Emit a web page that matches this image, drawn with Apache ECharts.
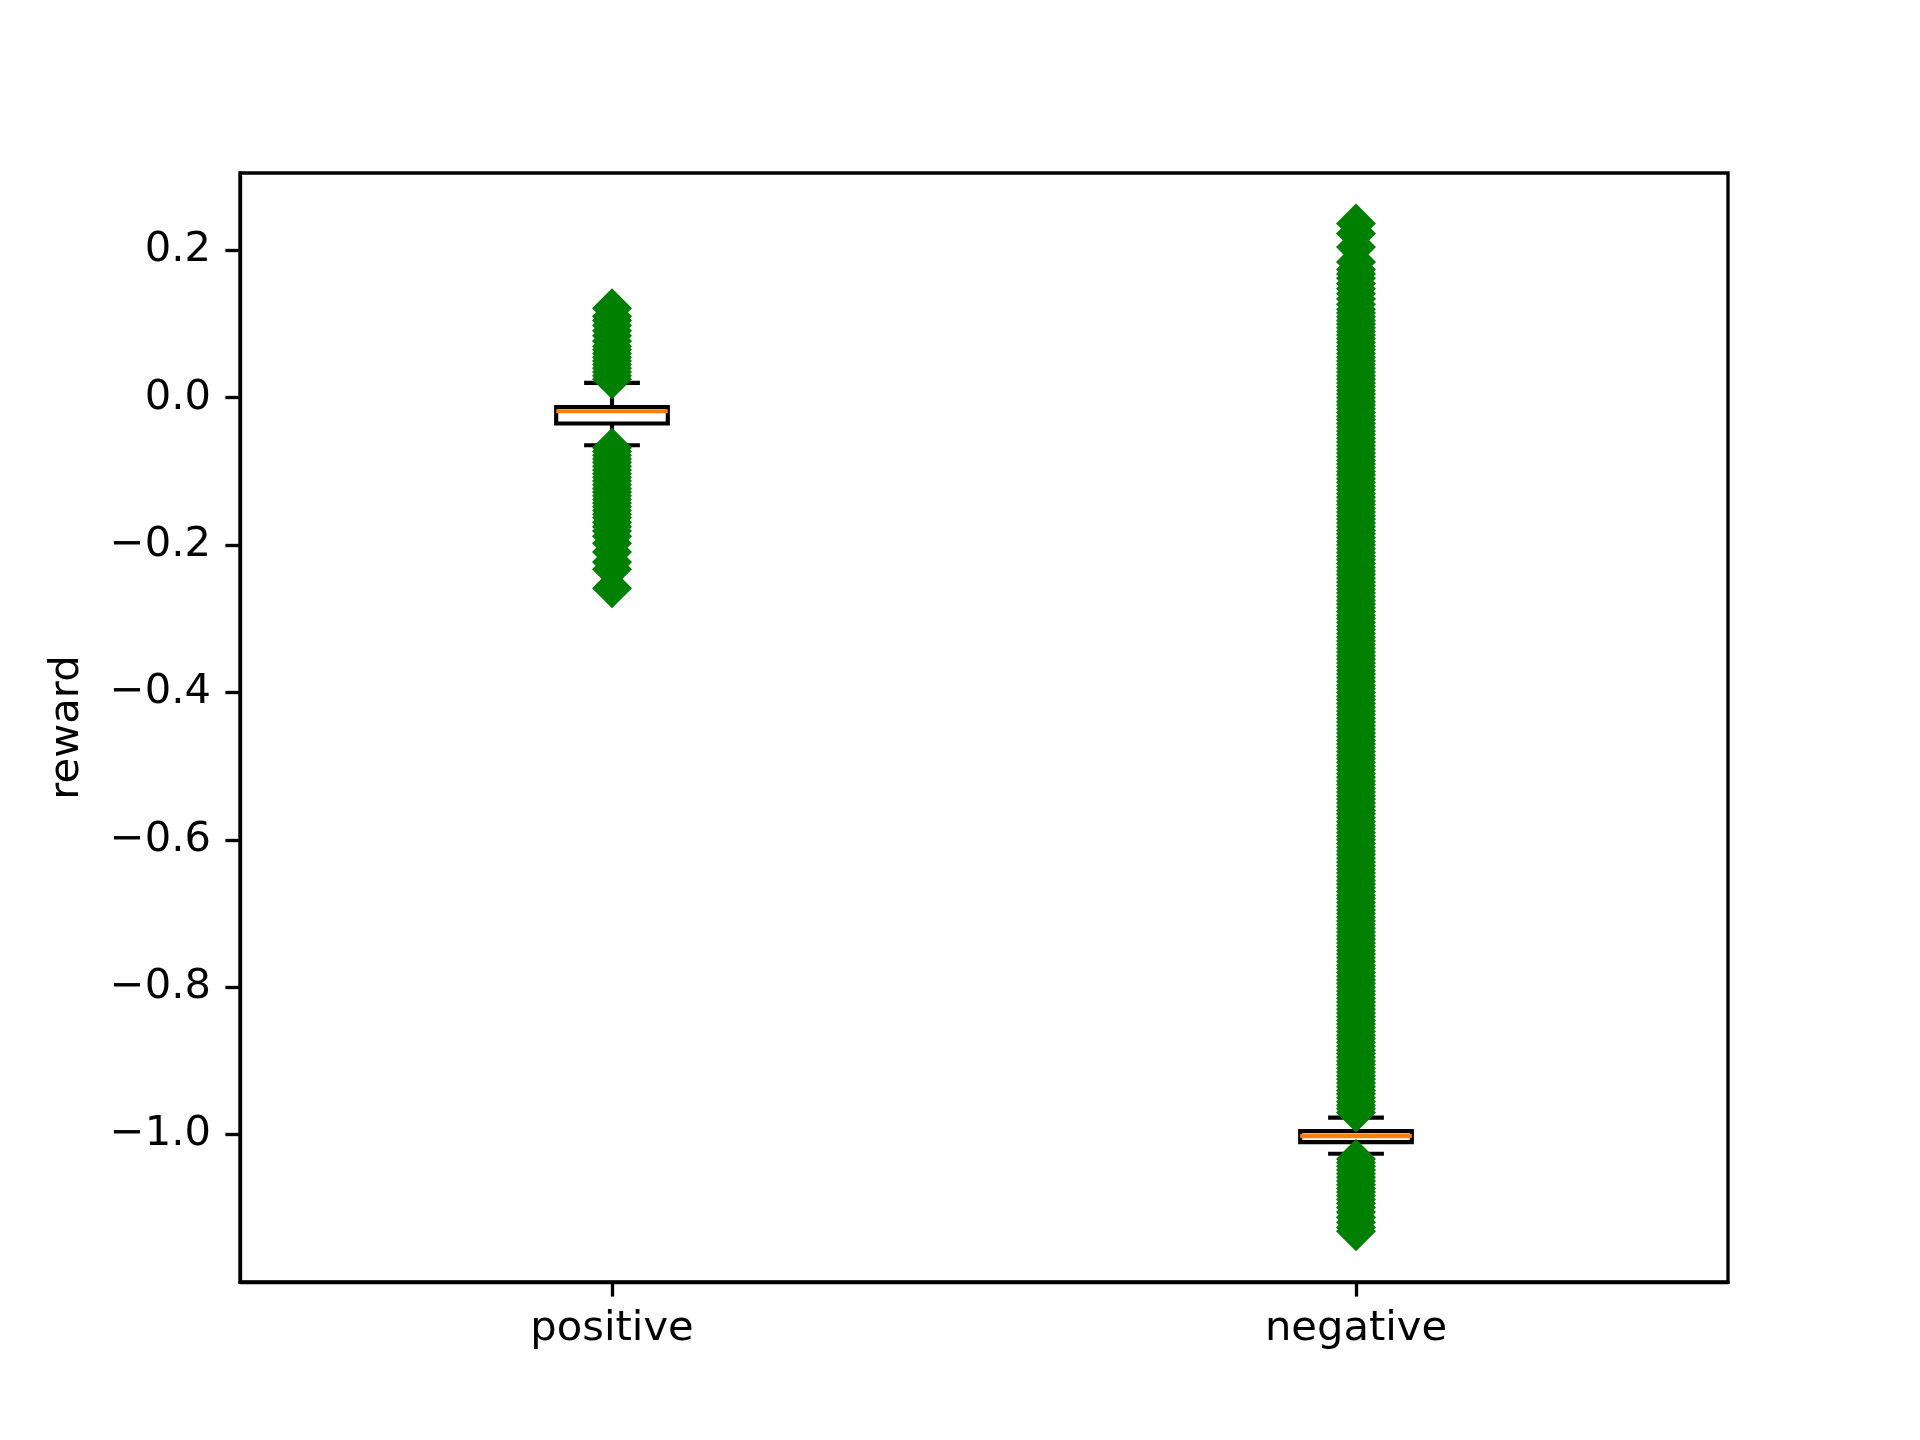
<!DOCTYPE html>
<html>
<head>
<meta charset="utf-8">
<title>reward boxplot</title>
<script src="https://cdn.jsdelivr.net/npm/echarts@6/dist/echarts.min.js"></script>
<style>
  html, body { margin: 0; padding: 0; background: #fff; }
  #chart { width: 1920px; height: 1440px; }
</style>
</head>
<body>
<div id="chart"></div>
<script>
  // categories on the x axis
  const categories = ['positive', 'negative'];

  // box stats per category: [low whisker, Q1, median, Q3, high whisker]
  const positiveBox = [-0.0645, -0.035, -0.0183, -0.0125, 0.0201];
  const negativeBox = [-1.026, -1.0102, -1.002, -0.9953, -0.977];

  // outliers (dense bands + the loose diamonds at the ends)
  const positiveFliersHigh = [
    0.025, 0.03, 0.035, 0.04, 0.045, 0.05, 0.055, 0.06, 0.065, 0.07,
    0.077, 0.084, 0.091, 0.098, 0.105, 0.1107, 0.1215
  ];
  const positiveFliersLow = [
    -0.068, -0.073, -0.078, -0.083, -0.088, -0.093, -0.098, -0.103, -0.108, -0.113,
    -0.118, -0.123, -0.128, -0.133, -0.138, -0.143, -0.148, -0.153, -0.158, -0.163,
    -0.169, -0.175, -0.181, -0.188, -0.1975, -0.2093, -0.2229, -0.2328, -0.2586
  ];
  const negativeFliersHigh = [
    -0.97, -0.965, -0.96, -0.955, -0.95, -0.945, -0.94, -0.935, -0.93, -0.925,
    -0.92, -0.915, -0.91, -0.905, -0.9, -0.895, -0.89, -0.885, -0.88, -0.875,
    -0.87, -0.865, -0.86, -0.855, -0.85, -0.845, -0.84, -0.835, -0.83, -0.825,
    -0.82, -0.815, -0.81, -0.805, -0.8, -0.795, -0.79, -0.785, -0.78, -0.775,
    -0.77, -0.765, -0.76, -0.755, -0.75, -0.745, -0.74, -0.735, -0.73, -0.725,
    -0.72, -0.715, -0.71, -0.705, -0.7, -0.695, -0.69, -0.685, -0.68, -0.675,
    -0.67, -0.665, -0.66, -0.655, -0.65, -0.645, -0.64, -0.635, -0.63, -0.625,
    -0.62, -0.615, -0.61, -0.605, -0.6, -0.595, -0.59, -0.585, -0.58, -0.575,
    -0.57, -0.565, -0.56, -0.555, -0.55, -0.545, -0.54, -0.535, -0.53, -0.525,
    -0.52, -0.515, -0.51, -0.505, -0.5, -0.495, -0.49, -0.485, -0.48, -0.475,
    -0.47, -0.465, -0.46, -0.455, -0.45, -0.445, -0.44, -0.435, -0.43, -0.425,
    -0.42, -0.415, -0.41, -0.405, -0.4, -0.395, -0.39, -0.385, -0.38, -0.375,
    -0.37, -0.365, -0.36, -0.355, -0.35, -0.345, -0.34, -0.335, -0.33, -0.325,
    -0.32, -0.315, -0.31, -0.305, -0.3, -0.295, -0.29, -0.285, -0.28, -0.275,
    -0.27, -0.265, -0.26, -0.255, -0.25, -0.245, -0.24, -0.235, -0.23, -0.225,
    -0.22, -0.215, -0.21, -0.205, -0.2, -0.195, -0.19, -0.185, -0.18, -0.175,
    -0.17, -0.165, -0.16, -0.155, -0.15, -0.145, -0.14, -0.135, -0.13, -0.125,
    -0.12, -0.115, -0.11, -0.105, -0.1, -0.095, -0.09, -0.085, -0.08, -0.075,
    -0.07, -0.065, -0.06, -0.055, -0.05, -0.045, -0.04, -0.035, -0.03, -0.025,
    -0.02, -0.015, -0.01, -0.005, 0, 0.005, 0.01, 0.015, 0.02, 0.025,
    0.03, 0.035, 0.04, 0.045, 0.05, 0.055, 0.06, 0.065, 0.07, 0.075,
    0.08, 0.085, 0.09, 0.095, 0.1, 0.105, 0.11, 0.115, 0.12, 0.127,
    0.134, 0.141, 0.148, 0.155, 0.162, 0.168, 0.174,
    0.1843, 0.2047, 0.2229, 0.2365
  ];
  const negativeFliersLow = [
    -1.033, -1.038, -1.043, -1.048, -1.053, -1.058, -1.063, -1.068, -1.073, -1.078,
    -1.083, -1.088, -1.093, -1.099, -1.105, -1.112, -1.119, -1.126, -1.131
  ];

  // y tick labels
  const yTicks = [-1.0, -0.8, -0.6, -0.4, -0.2, 0.0, 0.2];

  const FONT = 'DejaVu Sans';
  const PX = 300 / 72;          // matplotlib points -> px at 300 dpi

  const boxData = [
    [0].concat(positiveBox),
    [1].concat(negativeBox)
  ];

  const flierData = [];
  positiveFliersHigh.concat(positiveFliersLow).forEach(v => flierData.push([0, v]));
  negativeFliersHigh.concat(negativeFliersLow).forEach(v => flierData.push([1, v]));

  function fmt(v) {
    const s = Math.abs(v).toFixed(1);
    return v < -1e-9 ? '\u2212' + s : s;
  }

  function renderBox(params, api) {
    const x = api.value(0);
    const c = v => api.coord([x, v]);
    const band = api.size([1, 0])[0];
    const halfBox = band * 0.15 / 2;
    const halfCap = halfBox / 2;
    const lo = c(api.value(1)), q1 = c(api.value(2)), med = c(api.value(3));
    const q3 = c(api.value(4)), hi = c(api.value(5));
    const cx = q1[0];
    const black = { stroke: '#000', lineWidth: 1.0 * PX, fill: null };
    return {
      type: 'group',
      children: [
        { type: 'line', shape: { x1: cx, y1: q1[1], x2: cx, y2: lo[1] }, style: black },
        { type: 'line', shape: { x1: cx, y1: q3[1], x2: cx, y2: hi[1] }, style: black },
        { type: 'line', shape: { x1: cx - halfCap, y1: lo[1], x2: cx + halfCap, y2: lo[1] }, style: black },
        { type: 'line', shape: { x1: cx - halfCap, y1: hi[1], x2: cx + halfCap, y2: hi[1] }, style: black },
        { type: 'rect', shape: { x: cx - halfBox, y: q3[1], width: halfBox * 2, height: q1[1] - q3[1] }, style: black },
        { type: 'line', shape: { x1: cx - halfBox, y1: med[1], x2: cx + halfBox, y2: med[1] },
          style: { stroke: '#ff7f0e', lineWidth: 1.0 * PX } }
      ]
    };
  }

  const axisLineStyle = { color: '#000', width: 0.8 * PX };

  const chart = echarts.init(document.getElementById('chart'), null, { renderer: 'canvas' });
  chart.setOption({
    animation: false,
    backgroundColor: '#fff',
    textStyle: { fontFamily: FONT },
    grid: {
      left: 240, right: 192, top: 173, bottom: 158,
      show: true, borderColor: '#000', borderWidth: 0.8 * PX, backgroundColor: 'transparent'
    },
    xAxis: {
      type: 'category',
      data: categories,
      boundaryGap: true,
      axisLine: { show: true, onZero: false, lineStyle: axisLineStyle },
      axisTick: { show: true, alignWithLabel: true, inside: false, length: 3.5 * PX, lineStyle: axisLineStyle },
      axisLabel: { color: '#000', fontSize: 10 * PX, fontFamily: FONT, margin: 26 },
      splitLine: { show: false }
    },
    yAxis: {
      type: 'value',
      min: -1.2,
      max: 0.305,
      name: 'reward',
      nameLocation: 'middle',
      nameGap: 152,
      nameTextStyle: { color: '#000', fontSize: 10 * PX, fontFamily: FONT },
      axisLine: { show: true, lineStyle: axisLineStyle },
      axisTick: { show: true, customValues: yTicks, length: 3.5 * PX, lineStyle: axisLineStyle },
      axisLabel: { color: '#000', fontSize: 10 * PX, fontFamily: FONT, margin: 29, customValues: yTicks, formatter: fmt },
      splitLine: { show: false }
    },
    series: [
      {
        type: 'custom',
        renderItem: renderBox,
        data: boxData,
        encode: { x: 0, y: [1, 2, 3, 4, 5] },
        z: 2
      },
      {
        type: 'scatter',
        data: flierData,
        symbol: 'diamond',
        symbolSize: 40,
        itemStyle: { color: '#008000', opacity: 1 },
        z: 3
      }
    ]
  });
</script>
</body>
</html>
